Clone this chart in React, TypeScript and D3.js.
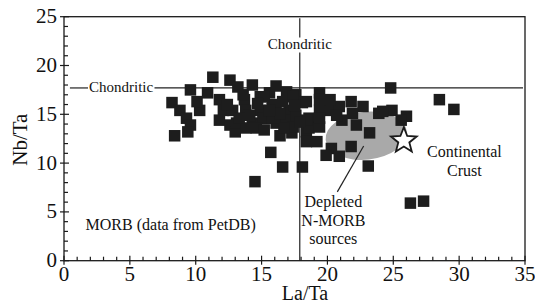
import { useEffect, useRef } from 'react';
import { scaleLinear, select, range, lineRadial, curveLinearClosed } from 'd3';

// MORB samples (PetDB)
const laTa = [
  8.2, 8.8, 9.3, 9.6, 9.4, 8.4, 9.6, 10.3, 10.9, 11.3, 10.1, 11.8, 12.1, 11.8, 12.6, 13.0,
  12.6, 13.2, 14.3, 13.7, 14.9, 13.8, 14.3, 15.4, 13.6, 15.6, 16.1, 16.9, 17.6, 12.8, 14.9,
  16.1, 17.1, 18.1, 13.1, 15.1, 16.1, 17.1, 13.8, 14.6, 16.4, 17.3, 18.4, 16.6, 15.8, 17.4,
  19.4, 19.4, 20.2, 20.9, 21.8, 22.7, 15.8, 16.9, 17.6, 18.6, 18.6, 19.4, 21.1, 22.2, 17.4,
  18.4, 20.3, 21.8, 20.9, 15.7, 14.5, 16.6, 18.1, 19.9, 23.1, 23.2, 18.4, 19.4, 20.7, 21.9,
  19.2, 18.4, 19.4, 23.9, 24.9, 26.0, 25.6, 24.2, 24.8, 28.5, 29.6, 26.3, 27.3, 15.2, 14.1,
  15.2, 16.4, 13.3, 17.5, 15.6, 16.7, 17.9, 14.7, 12.4, 20.2,
];
const nbTa = [
  16.2, 15.4, 14.6, 13.9, 13.2, 12.8, 17.5, 15.4, 17.2, 18.8, 16.3, 16.5, 15.4, 14.4, 13.9, 13.2,
  18.5, 17.8, 18.0, 16.5, 16.8, 15.4, 14.1, 14.6, 17.0, 17.2, 17.9, 17.3, 17.0, 15.4, 15.4,
  15.8, 15.4, 16.2, 14.1, 14.6, 14.1, 14.4, 13.6, 13.6, 12.8, 13.1, 13.2, 16.3, 16.0, 16.8,
  17.2, 15.4, 15.4, 15.8, 16.3, 15.8, 14.6, 14.4, 14.9, 14.6, 13.6, 13.7, 14.4, 13.9, 13.7,
  12.2, 11.5, 11.7, 10.7, 11.1, 8.1, 9.6, 9.6, 10.8, 9.7, 13.1, 14.4, 14.6, 14.9, 15.1,
  12.2, 16.3, 16.5, 15.1, 15.4, 14.8, 14.4, 15.3, 17.7, 16.5, 15.5, 5.9, 6.1, 16.8, 14.9,
  13.4, 15.1, 14.6, 15.9, 15.4, 13.6, 14.2, 16.1, 16.0, 16.5,
];

const xTicks = [0, 5, 10, 15, 20, 25, 30, 35];
const yTicks = [0, 5, 10, 15, 20, 25];

// chondritic reference ratios
const chondriticLaTa = 17.9;
const chondriticNbTa = 17.7;

// depleted N-MORB source field: centre, half-widths
const depletedCentre = [22.95, 12.8];
const depletedRadius = [3.1, 2.45];

const crustLaTa = 25.8;
const crustNbTa = 12.3;

const depletedLabel = ['Depleted', 'N-MORB', 'sources'];
const crustLabel = ['Continental', 'Crust'];

const FONT = "'Liberation Serif', 'DejaVu Serif', serif";

export default function App() {
  const svgRef = useRef<SVGSVGElement>(null);

  useEffect(() => {
    if (!svgRef.current) return;
    select(svgRef.current).selectAll('*').remove();

    const width = 535;
    const height = 305;

    const x = scaleLinear().domain([0, 35]).range([64, 525]);
    const y = scaleLinear().domain([0, 25]).range([260.7, 16.7]);

    const svg = select(svgRef.current)
      .attr('width', width)
      .attr('height', height);

    const root = svg.append('g');

    // all text goes through here so the serif face is set on every node
    const label = (parent: any, t: string, size: number) =>
      parent.append('text')
        .style('font-family', FONT)
        .style('font-size', `${size}px`)
        .attr('fill', '#111')
        .text(t);

    // Depleted source field
    const [cx, cy] = [x(depletedCentre[0]), y(depletedCentre[1])];
    root.append('ellipse')
      .attr('cx', cx)
      .attr('cy', cy)
      .attr('rx', x(depletedRadius[0]) - x(0))
      .attr('ry', y(0) - y(depletedRadius[1]))
      .attr('transform', `rotate(-6,${cx},${cy})`)
      .attr('fill', '#a9a9a9');

    // Chondritic lines
    const hLabel = label(root, 'Chondritic', 15)
      .attr('x', x(0) + 25)
      .attr('y', y(chondriticNbTa) + 4.5);
    const hb = (hLabel.node() as SVGTextElement).getBBox();
    root.append('line')
      .attr('x1', x(0.45)).attr('x2', hb.x - 1)
      .attr('y1', y(chondriticNbTa)).attr('y2', y(chondriticNbTa))
      .attr('stroke', '#222').attr('stroke-width', 1.2);
    root.append('line')
      .attr('x1', hb.x + hb.width + 1).attr('x2', x(34.85))
      .attr('y1', y(chondriticNbTa)).attr('y2', y(chondriticNbTa))
      .attr('stroke', '#222').attr('stroke-width', 1.2);

    const vLabel = label(root, 'Chondritic', 15)
      .attr('x', x(chondriticLaTa))
      .attr('y', 48.5)
      .attr('text-anchor', 'middle');
    const vb = (vLabel.node() as SVGTextElement).getBBox();
    root.append('line')
      .attr('x1', x(chondriticLaTa)).attr('x2', x(chondriticLaTa))
      .attr('y1', y(24.85)).attr('y2', vb.y + 2)
      .attr('stroke', '#222').attr('stroke-width', 1.2);
    root.append('line')
      .attr('x1', x(chondriticLaTa)).attr('x2', x(chondriticLaTa))
      .attr('y1', vb.y + vb.height + 1).attr('y2', y(0))
      .attr('stroke', '#222').attr('stroke-width', 1.2);

    // Samples
    const size = 11.5;
    root.append('g')
      .selectAll('rect')
      .data(laTa.map((d, i) => [d, nbTa[i]]))
      .join('rect')
      .attr('x', (d) => x(d[0]) - size / 2)
      .attr('y', (d) => y(d[1]) - size / 2)
      .attr('width', size)
      .attr('height', size)
      .attr('fill', '#1d1d1d');

    // Pointer to depleted field
    root.append('line')
      .attr('x1', x(22.75)).attr('y1', y(11.75))
      .attr('x2', x(20.75)).attr('y2', y(7.05))
      .attr('stroke', '#222').attr('stroke-width', 1.2);

    // Continental crust star
    const star = lineRadial<number>()
      .angle((_, i) => (i * Math.PI) / 5)
      .radius((_, i) => (i % 2 === 0 ? 13.5 : 5.8))
      .curve(curveLinearClosed);
    root.append('path')
      .attr('d', star(range(10)))
      .attr('transform', `translate(${x(crustLaTa)},${y(crustNbTa)})`)
      .attr('fill', '#fff')
      .attr('stroke', '#1a1a1a')
      .attr('stroke-width', 1.8)
      .attr('stroke-linejoin', 'miter');

    // Annotations
    depletedLabel.forEach((t, i) => {
      label(root, t, 16)
        .attr('x', x(20.45))
        .attr('y', 207 + i * 18.7)
        .attr('text-anchor', 'middle');
    });
    crustLabel.forEach((t, i) => {
      label(root, t, 16)
        .attr('x', x(30.4))
        .attr('y', 157 + i * 19)
        .attr('text-anchor', 'middle');
    });
    label(root, 'MORB (data from PetDB)', 16)
      .attr('x', x(8.1))
      .attr('y', y(3.1))
      .attr('text-anchor', 'middle');

    // Frame
    root.append('rect')
      .attr('x', x(0)).attr('y', y(25))
      .attr('width', x(35) - x(0)).attr('height', y(0) - y(25))
      .attr('fill', 'none')
      .attr('stroke', '#1a1a1a')
      .attr('stroke-width', 1.3);

    // Ticks
    const axisG = root.append('g').attr('stroke', '#1a1a1a').attr('stroke-width', 1.2);
    range(0, 36).forEach((v) => {
      const major = v % 5 === 0;
      axisG.append('line')
        .attr('x1', x(v)).attr('x2', x(v))
        .attr('y1', y(0) + (major ? 4 : 0)).attr('y2', y(0) - (major ? 5 : 4));
    });
    range(0, 26).forEach((v) => {
      const major = v % 5 === 0;
      axisG.append('line')
        .attr('y1', y(v)).attr('y2', y(v))
        .attr('x1', x(0) - (major ? 4 : 0)).attr('x2', x(0) + (major ? 5 : 4));
    });

    // Tick labels
    xTicks.forEach((d) => {
      label(root, String(d), 21)
        .attr('x', x(d))
        .attr('y', y(0) + 20.5)
        .attr('text-anchor', 'middle');
    });
    yTicks.forEach((d) => {
      label(root, String(d), 21)
        .attr('x', x(0) - 7)
        .attr('y', (d) => y(d) + 6.5)
        .attr('y', y(d) + 6.5)
        .attr('text-anchor', 'end');
    });

    // Axis titles
    label(root, 'La/Ta', 20)
      .attr('x', 305)
      .attr('y', 300)
      .attr('text-anchor', 'middle');
    label(root, 'Nb/Ta', 21)
      .attr('transform', `translate(27,${y(12.4)}) rotate(-90)`)
      .attr('text-anchor', 'middle');
  }, []);

  return (
    <svg
      ref={svgRef}
      style={{ position: 'absolute', left: 0, top: 0, display: 'block', background: '#fff' }}
    />
  );
}
